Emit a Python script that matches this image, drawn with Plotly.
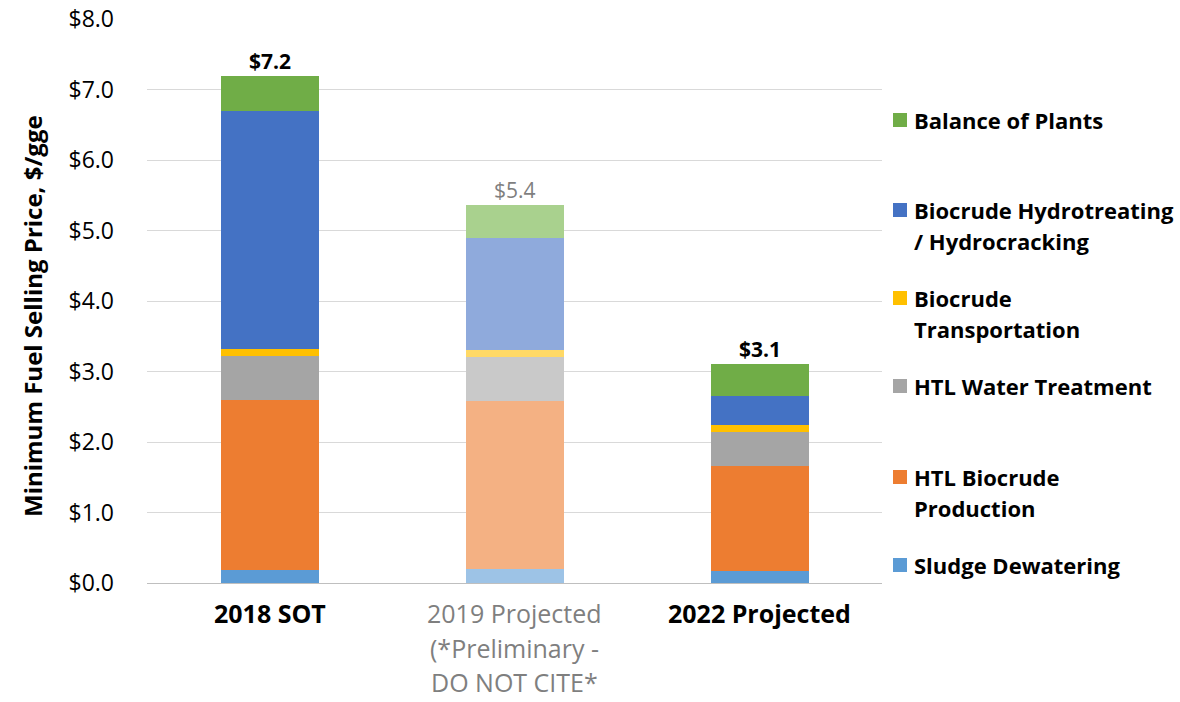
import plotly.graph_objects as go

# Cost breakdown of minimum fuel selling price ($/gge), stacked bottom to top
categories = ["2018 SOT", "2019 Projected<br>(*Preliminary -<br>DO NOT CITE*", "2022 Projected"]
series_names = [
    "Sludge Dewatering",
    "HTL Biocrude<br>Production",
    "HTL Water Treatment",
    "Biocrude<br>Transportation",
    "Biocrude Hydrotreating<br>/ Hydrocracking",
    "Balance of Plants",
]
sludge_dewatering = [0.19, 0.20, 0.175]
htl_biocrude = [2.40, 2.385, 1.49]
htl_water = [0.625, 0.62, 0.483]
biocrude_transport = [0.10, 0.095, 0.094]
hydrotreating = [3.38, 1.60, 0.412]
balance_of_plants = [0.49, 0.465, 0.45]
series_values = [sludge_dewatering, htl_biocrude, htl_water,
                 biocrude_transport, hydrotreating, balance_of_plants]

y_ticks = [0, 1, 2, 3, 4, 5, 6, 7, 8]
y_tick_labels = ["$0.0", "$1.0", "$2.0", "$3.0", "$4.0", "$5.0", "$6.0", "$7.0", "$8.0"]

# full colours for firm cases, washed-out colours for the preliminary case
colors_full = ["#5B9BD5", "#ED7D31", "#A5A5A5", "#FFC000", "#4472C4", "#70AD47"]
colors_light = ["#9DC3E6", "#F4B183", "#C9C9C9", "#FFD966", "#8FAADC", "#A9D18E"]
preliminary = [False, True, False]

FONT = "Open Sans"
x_idx = list(range(len(categories)))

fig = go.Figure()
for name, vals, cf, cl in zip(series_names, series_values, colors_full, colors_light):
    fig.add_trace(go.Bar(
        x=x_idx, y=vals, name=name,
        marker=dict(color=[cl if p else cf for p in preliminary], line=dict(width=0)),
        showlegend=False,
    ))

# plot area in pixels
L, R, T, B = 147, 298, 19, 119
W, H = 1180, 702
pw, ph = W - L - R, H - T - B

def px(x):
    return (x - L) / pw

def py(y):
    return (H - B - y) / ph

annotations = []

# totals above each bar
totals = [sum(s[i] for s in series_values) for i in x_idx]
for i, tot in enumerate(totals):
    annotations.append(dict(
        x=i, y=tot, xref="x", yref="y", text=f"${tot:.1f}" if preliminary[i] else f"<b>${tot:.1f}</b>",
        showarrow=False, yanchor="middle", yshift=15,
        font=dict(family=FONT, size=21, color="#7F7F7F" if preliminary[i] else "#000000"),
    ))

# category labels, one line at a time for wider line spacing
for i, cat in enumerate(categories):
    for j, line in enumerate(cat.split("<br>")):
        annotations.append(dict(
            x=i, y=py(613 + 34.5 * j), xref="x", yref="paper",
            text=line if preliminary[i] else f"<b>{line}</b>",
            showarrow=False, yanchor="middle", xanchor="center",
            font=dict(family=FONT, size=25, color="#7F7F7F" if preliminary[i] else "#000000"),
        ))

# y-axis title
annotations.append(dict(
    x=px(32), y=py(316), xref="paper", yref="paper",
    text="<b>Minimum Fuel Selling Price, $/gge</b>", textangle=-90,
    showarrow=False, xanchor="center", yanchor="middle",
    font=dict(family=FONT, size=24, color="#000000"),
))

# legend, evenly spaced entries, top of stack first
shapes = []
legend_rows = [565, 477, 386, 298, 210, 120]
for name, color, ry in zip(series_names, colors_full, legend_rows):
    shapes.append(dict(
        type="rect", xref="paper", yref="paper",
        x0=px(893), x1=px(907), y0=py(ry + 7), y1=py(ry - 7),
        fillcolor=color, line=dict(width=0),
    ))
    for j, line in enumerate(name.split("<br>")):
        annotations.append(dict(
            x=px(912), y=py(ry + 31 * j), xref="paper", yref="paper",
            text=f"<b>{line}</b>", showarrow=False, xanchor="left", yanchor="middle",
            font=dict(family=FONT, size=22, color="#000000"),
        ))

fig.update_layout(
    barmode="stack",
    bargap=0.6,
    width=W, height=H,
    margin=dict(l=L, r=R, t=T, b=B, autoexpand=False),
    paper_bgcolor="white", plot_bgcolor="white",
    font=dict(family=FONT, color="#000000"),
    annotations=annotations,
    shapes=shapes,
    xaxis=dict(
        range=[-0.5, 2.5], tickvals=x_idx, showticklabels=False,
        showgrid=False, zeroline=False, showline=False, automargin=False,
    ),
    yaxis=dict(
        range=[0, 8], tickvals=y_ticks, ticktext=y_tick_labels,
        showgrid=True, gridcolor="#D9D9D9", gridwidth=1,
        zeroline=True, zerolinecolor="#BFBFBF", zerolinewidth=1,
        showline=False, ticks="", ticklabelstandoff=32, automargin=False,
        tickfont=dict(family=FONT, size=23, color="#000000"),
    ),
)

fig.write_html("out.html")
